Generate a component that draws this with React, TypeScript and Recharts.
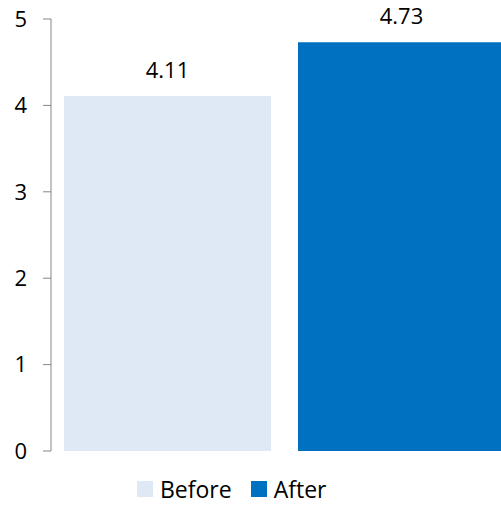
import { Bar, BarChart, LabelList, Legend, XAxis, YAxis } from 'recharts'

const categories = ['Score']
const seriesNames = ['Before', 'After']
const beforeValues = [4.11]
const afterValues = [4.73]
const yTicks = [0, 1, 2, 3, 4, 5]

const data = categories.map((name, i) => ({
  name,
  Before: beforeValues[i],
  After: afterValues[i],
}))

const font = '"Open Sans", sans-serif'

function LegendContent({ payload }: any) {
  const items = [...(payload || [])].sort(
    (a: any, b: any) => seriesNames.indexOf(a.value) - seriesNames.indexOf(b.value)
  )
  return (
    <div style={{ display: 'flex', alignItems: 'center', fontFamily: font, fontSize: 23, color: '#000' }}>
      {items.map((p: any) => (
        <div key={p.value} style={{ display: 'flex', alignItems: 'center', marginRight: 19 }}>
          <span style={{ width: 16, height: 16, background: p.color, display: 'inline-block', marginRight: 7 }} />
          <span>{p.value}</span>
        </div>
      ))}
    </div>
  )
}

export default function App() {
  return (
    <div style={{ position: 'absolute', left: 0, top: 0, width: 501, height: 506, overflow: 'hidden', background: '#fff' }}>
      <BarChart
        width={520}
        height={506}
        data={data}
        margin={{ top: 19, right: 2, left: 0, bottom: 23 }}
        barGap={27}
        barCategoryGap={13}
      >
        <XAxis dataKey="name" hide />
        <YAxis
          domain={[0, 5]}
          ticks={yTicks}
          width={51}
          tickSize={8}
          tickMargin={16}
          stroke="#868686"
          tick={{ fill: '#000', fontSize: 22, fontFamily: font }}
        />
        <Legend
          verticalAlign="bottom"
          content={<LegendContent />}
          wrapperStyle={{ left: 137, width: 'auto', bottom: 1 }}
        />
        <Bar dataKey="Before" fill="#DEE9F5" isAnimationActive={false}>
          <LabelList dataKey="Before" position="top" offset={18} fill="#000" fontSize={22} fontFamily={font} />
        </Bar>
        <Bar dataKey="After" fill="#0070C0" isAnimationActive={false}>
          <LabelList dataKey="After" position="top" offset={18} fill="#000" fontSize={22} fontFamily={font} />
        </Bar>
      </BarChart>
    </div>
  )
}
